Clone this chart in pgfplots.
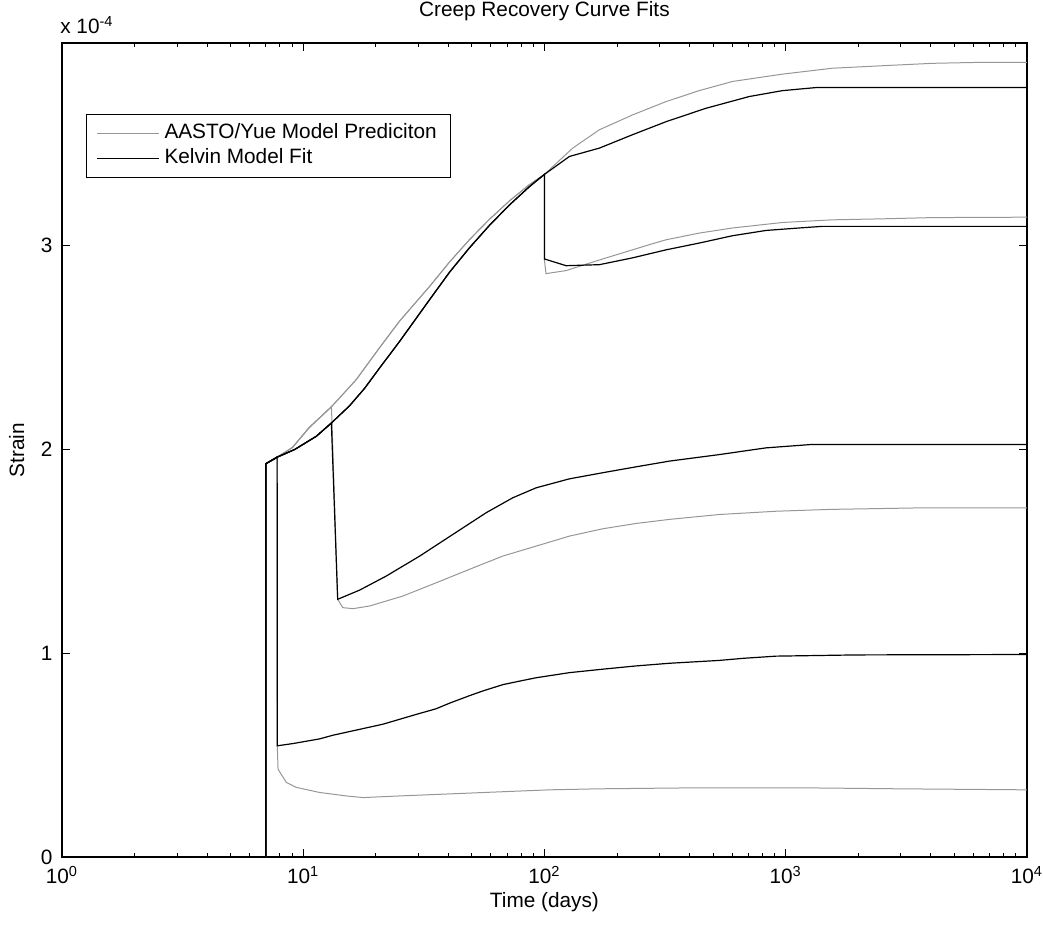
\documentclass[border=0pt]{standalone}
\usepackage{fontspec}
\setmainfont{Liberation Sans}
\usepackage{pgfplots}
\pgfplotsset{compat=1.18}
\definecolor{mgray}{RGB}{150,150,150}
\begin{document}
\begin{tikzpicture}[font=\fontsize{10.4}{12.5}\selectfont]
\begin{axis}[
  scale only axis,
  width=483pt, height=407.5pt,
  xmode=log,
  xmin=1, xmax=10000,
  ymin=0, ymax=3.995,
  xtick={1,10,100,1000,10000},
  xticklabels={10\textsuperscript{0},10\textsuperscript{1},10\textsuperscript{2},10\textsuperscript{3},10\textsuperscript{4}},
  xticklabel style={inner xsep=0pt, yshift=-1pt},
  minor xtick={2,3,4,5,6,7,8,9,20,30,40,50,60,70,80,90,200,300,400,500,600,700,800,900,2000,3000,4000,5000,6000,7000,8000,9000},
  ytick={0,1,2,3},
  yticklabels={0,1,2,3},
  yticklabel style={inner xsep=0pt, xshift=-4.5pt},
  tick align=inside,
  major tick length=4pt,
  minor tick length=2pt,
  every tick/.style={black, line width=0.5pt},
  axis line style={line width=0.8pt},
  title={Creep Recovery Curve Fits},
  every axis title/.style={at={(axis description cs:0.5,1.0319)}, anchor=base, inner sep=0pt},
  xlabel={Time (days)},
  every axis x label/.style={at={(axis description cs:0.5,-0.062)}, anchor=base},
  ylabel={Strain},
  every axis y label/.style={at={(axis description cs:-0.0393,0.5)}, rotate=90, anchor=base},
  legend cell align=left,
  legend image code/.code={\draw[#1] (0pt,0pt) -- (31pt,0pt);},
  legend style={at={(axis description cs:0.02484,0.91288)}, anchor=north west,
    draw=black, line width=0.5pt, inner xsep=5pt, inner ysep=3.5pt,
    nodes={inner sep=1pt, text height=7.4pt, text depth=2.4pt},
    row sep=1pt, column sep=1.5pt},
]
% ---------- AASTO/Yue model (gray) ----------
% never unloaded
\addplot[mgray, line width=0.5pt] coordinates {
(3.5,0) (7,0) (7,1.93) (7.99,1.97) (9.03,2.01) (10.6,2.108) (13.1,2.21) (14.2,2.255) (16.6,2.343) (20.74,2.50) (25.09,2.63) (33.41,2.80) (40.43,2.92) (48.92,3.03) (59.20,3.13) (71.63,3.22) (86.69,3.30) (100,3.35)
(131,3.479) (169,3.569) (232,3.642) (319,3.707) (438,3.761) (602,3.806) (970,3.842) (1563,3.871) (2600,3.884) (4055,3.895) (6530,3.90) (10000,3.90)};
\addlegendentry{\makebox[137pt][l]{AASTO/Yue Model Prediciton}}
% unloaded at 100 days
\addplot[mgray, line width=0.5pt, forget plot] coordinates {
(3.5,0) (7,0) (7,1.93) (7.99,1.97) (9.03,2.01) (10.6,2.108) (13.1,2.21) (14.2,2.255) (16.6,2.343) (20.74,2.50) (25.09,2.63) (33.41,2.80) (40.43,2.92) (48.92,3.03) (59.20,3.13) (71.63,3.22) (86.69,3.30) (100,3.35)
(100,2.93) (101.5,2.863) (123,2.878) (169,2.93) (272,3.005) (319,3.029) (438,3.062) (602,3.087) (970,3.114) (1563,3.127) (2520,3.132) (4055,3.138) (10000,3.14)};
% unloaded at 14 days
\addplot[mgray, line width=0.5pt, forget plot] coordinates {
(3.5,0) (7,0) (7,1.93) (7.99,1.97) (9.03,2.01) (10.6,2.108) (13.1,2.21) (13.9,1.265) (14.6,1.224) (16.08,1.219) (18.85,1.232) (25.9,1.281) (35.6,1.346) (48.9,1.412) (67.2,1.477) (92.4,1.526) (126.9,1.575) (174.4,1.611) (239.8,1.637) (329.4,1.657) (530.4,1.681) (911,1.697) (1514,1.706) (3807,1.714) (10000,1.714)};
% unloaded at 8 days
\addplot[mgray, line width=0.5pt, forget plot] coordinates {
(3.5,0) (7,0) (7,1.93) (7.8,1.96) (7.81,0.546) (7.87,0.431) (8.52,0.366) (9.37,0.342) (11.70,0.317) (15.1,0.30) (17.7,0.292) (25.1,0.30) (40.4,0.31) (65,0.32) (105,0.33) (169,0.335) (438,0.34) (1137,0.34) (2940,0.335) (10000,0.33)};
% ---------- Kelvin model (black) ----------
\addplot[black, line width=0.6pt] coordinates {
(3.5,0) (7,0) (7,1.93) (7.86,1.964) (9.22,2.0) (11.34,2.065) (13.09,2.13) (15.58,2.215) (17.97,2.30) (20.74,2.40) (25.09,2.53) (33.41,2.735) (40.43,2.87) (48.92,2.99) (59.20,3.10) (71.63,3.20) (86.69,3.29) (100,3.35)
(127,3.438) (169,3.479) (231,3.544) (320,3.609) (466,3.674) (706,3.732) (970,3.761) (1334,3.776) (10000,3.776)};
\addlegendentry{Kelvin Model Fit}
% unloaded at 100 days
\addplot[black, line width=0.6pt, forget plot] coordinates {
(3.5,0) (7,0) (7,1.93) (7.86,1.964) (9.22,2.0) (11.34,2.065) (13.09,2.13) (15.58,2.215) (17.97,2.30) (20.74,2.40) (25.09,2.53) (33.41,2.735) (40.43,2.87) (48.92,2.99) (59.20,3.10) (71.63,3.20) (86.69,3.29) (100,3.35)
(100,2.935) (123,2.902) (169,2.907) (231,2.940) (320,2.98) (438,3.013) (602,3.049) (830,3.075) (1137,3.087) (1420,3.095) (10000,3.095)};
% unloaded at 14 days
\addplot[black, line width=0.6pt, forget plot] coordinates {
(3.5,0) (7,0) (7,1.93) (7.86,1.964) (9.22,2.0) (11.34,2.065) (13.09,2.13) (13.9,1.265) (17.14,1.31) (22.1,1.379) (30.4,1.477) (41.7,1.583) (57.4,1.69) (73.9,1.763) (92.4,1.812) (126.9,1.856) (174.4,1.886) (239.8,1.915) (329.4,1.943) (530.4,1.975) (828,2.008) (1291,2.025) (10000,2.025)};
% unloaded at 8 days
\addplot[black, line width=0.6pt, forget plot] coordinates {
(3.5,0) (7,0) (7,1.93) (7.8,1.964) (7.81,0.546) (9.07,0.557) (11.7,0.58) (13.29,0.598) (21.4,0.652) (29.4,0.700) (35.6,0.728) (40.4,0.755) (48.9,0.792) (55.5,0.815) (67.2,0.846) (76.4,0.860) (92.4,0.880) (126.9,0.905) (174.4,0.922) (239.8,0.938) (329.4,0.951) (530.4,0.965) (662,0.975) (911,0.986) (1953,0.992) (10000,0.994)};
\end{axis}
\node[anchor=base west, inner sep=0pt] at (-1pt,412pt) {x 10\textsuperscript{-4}};
\path (-31pt,-34pt) rectangle (490.5pt,429pt);
\end{tikzpicture}
\end{document}
